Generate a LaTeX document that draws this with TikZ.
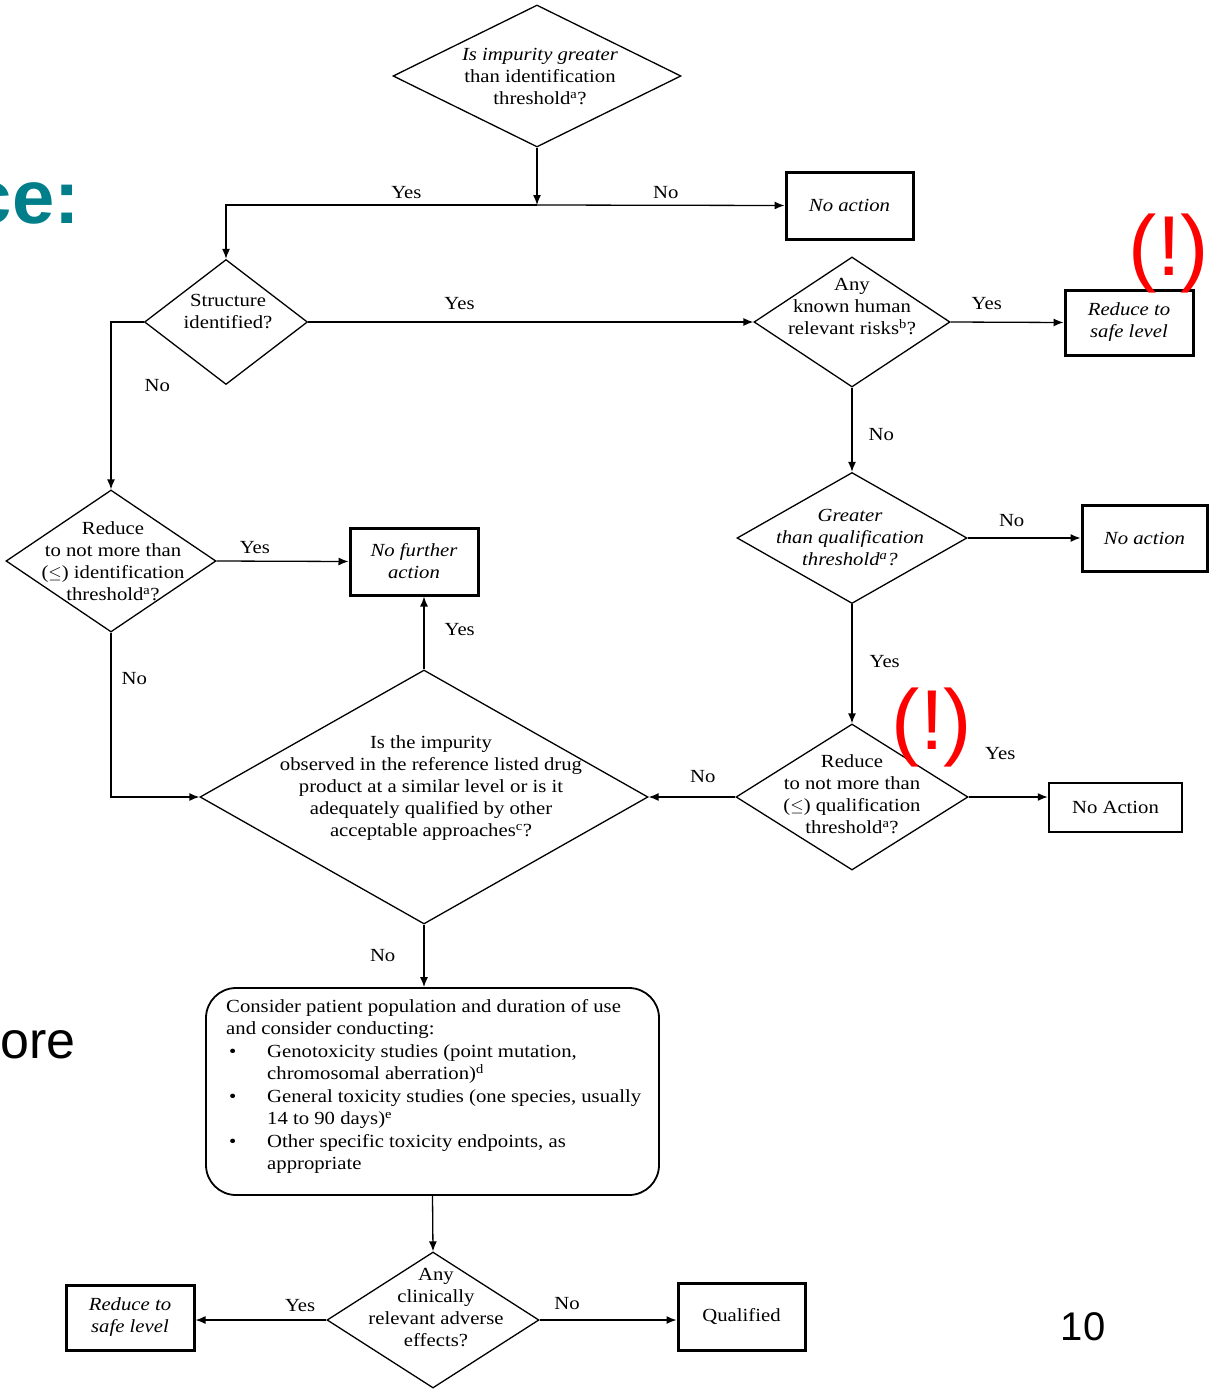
\documentclass[tikz,border=0pt]{standalone}
\usepackage{fontspec}
\setmainfont{Liberation Serif}[FakeStretch=1.12]
\newfontfamily\arialf{Liberation Sans}
\usetikzlibrary{shapes.geometric,arrows.meta}
\definecolor{slideteal}{RGB}{0,126,138}
\begin{document}
\begin{tikzpicture}[x=1pt,y=-1pt,
 dia/.style={draw, diamond, inner sep=0pt, line width=1.3pt},
 dtext/.style={align=center, font=\fontsize{18.5}{22}\selectfont, inner sep=0pt},
 endbox/.style={draw, line width=3pt, inner sep=0pt, font=\fontsize{18.5}{22}\selectfont, align=center},
 arr/.style={line width=1.3pt, -{Latex[length=10pt,width=8pt]}},
 lab/.style={font=\fontsize{18.5}{22}\selectfont, inner sep=2pt},
 warn/.style={text=red, font=\arialf\fontsize{85}{90}\selectfont, inner sep=0pt},
 slide/.style={font=\arialf\fontsize{52}{56}\selectfont, inner sep=0pt}
]
\clip (0,0) rectangle (1209,1394);
\fill[white] (0,0) rectangle (1209,1394);

% slide fragments
\node[slide, text=slideteal, font=\arialf\bfseries\fontsize{76}{80}\selectfont, anchor=base east] (ce) at (80,223) {ce:};
\node[slide, anchor=base west] (ore) at (0,1058) {ore};
\node[slide, font=\arialf\fontsize{40}{44}\selectfont] (pagenum) at (1083,1327) {10};

% diamonds
\node[dia, minimum width=288pt, minimum height=142pt] (q1) at (537,76) {};
\node[dtext] (q1t) at (540,77) {\textit{Is impurity greater}\\than identification\\threshold\textsuperscript{a}?};

\node[dia, minimum width=163pt, minimum height=125pt] (q2) at (226,322) {};
\node[dtext] (q2t) at (228,312) {Structure\\identified?};

\node[dia, minimum width=196pt, minimum height=130pt] (q3) at (852,322) {};
\node[dtext] (q3t) at (852,307) {Any\\known human\\relevant risks\textsuperscript{b}?};

\node[dia, minimum width=210pt, minimum height=142pt] (q4) at (111,561) {};
\node[dtext] (q4t) at (113,561) {Reduce\\to not more than\\($\leq$) identification\\threshold\textsuperscript{a}?};

\node[dia, minimum width=230pt, minimum height=131pt] (q5) at (852,538) {};
\node[dtext] (q5t) at (850,538) {\itshape Greater\\\itshape than qualification\\\itshape threshold\textsuperscript{a}?};

\node[dia, minimum width=232pt, minimum height=146pt] (q7) at (852,797) {};
\node[dtext] (q7t) at (852,794) {Reduce\\to not more than\\($\leq$) qualification\\threshold\textsuperscript{a}?};

\node[dia, minimum width=448pt, minimum height=254pt] (q6) at (424,797) {};
\node[dtext] (q6t) at (431,788) {Is the impurity\\observed in the reference listed drug\\product at a similar level or is it\\adequately qualified by other\\acceptable approaches\textsuperscript{c}?};

\node[dia, minimum width=212pt, minimum height=136pt] (q8) at (433,1320) {};
\node[dtext] (q8t) at (436,1308) {Any\\clinically\\relevant adverse\\effects?};

% end boxes
\node[endbox, minimum width=127pt, minimum height=67pt] (na1) at (849.5,205.5) {\itshape No action};
\node[endbox, minimum width=128pt, minimum height=65pt] (safe1) at (1129,322.5) {\itshape Reduce to\\\itshape safe level};
\node[endbox, minimum width=128pt, minimum height=67pt] (nfa) at (414,561.5) {\itshape No further\\\itshape action};
\node[endbox, minimum width=125pt, minimum height=66pt] (na2) at (1144.5,538) {\itshape No action};
\node[endbox, line width=2.5pt, minimum width=133pt, minimum height=49pt] (na3) at (1115.5,807.5) {No Action};
\node[endbox, minimum width=128pt, minimum height=65pt] (safe2) at (130,1317.5) {\itshape Reduce to\\\itshape safe level};
\node[endbox, minimum width=127pt, minimum height=67pt] (qual) at (741.5,1316.5) {Qualified};

% rounded box
\node[draw, line width=1.8pt, rounded corners=30pt, minimum width=453pt, minimum height=207pt, inner sep=0pt] (cons) at (432.5,1091.5) {};
\node[anchor=north west, align=left, inner sep=0pt, font=\fontsize{18.5}{22.5}\selectfont] (const) at (226,999) {Consider patient population and duration of use\\
and consider conducting:\\
\hspace*{3pt}\makebox[38pt][l]{\textbullet}Genotoxicity studies (point mutation,\\
\hspace*{41pt}chromosomal aberration)\textsuperscript{d}\\
\hspace*{3pt}\makebox[38pt][l]{\textbullet}General toxicity studies (one species, usually\\
\hspace*{41pt}14 to 90 days)\textsuperscript{e}\\
\hspace*{3pt}\makebox[38pt][l]{\textbullet}Other specific toxicity endpoints, as\\
\hspace*{41pt}appropriate};

% connectors
\coordinate (j1) at (537,205);
\draw[arr] (q1.south) -- (j1);
\draw[arr] (j1) -- (na1.west) node[lab, pos=0.52, above=4pt] (l1) {No};
\draw[arr] (j1) -| (q2.north) node[lab, pos=0.21, above=4pt] (l2) {Yes};
\draw[arr] (q2.east) -- (q3.west) node[lab, pos=0.34, above=10pt] (l3) {Yes};
\draw[arr] (q3.east) -- (safe1.west) node[lab, pos=0.32, above=10pt] (l4) {Yes};
\draw[arr] (q3.south) -- (q5.north) node[lab, pos=0.56, right=14pt] (l5) {No};
\draw[arr] (q5.east) -- (na2.west) node[lab, pos=0.39, above=9pt] (l6) {No};
\draw[arr] (q5.south) -- (q7.north) node[lab, pos=0.48, right=15pt] (l7) {Yes};
\draw[arr] (q7.east) -- (q7.east -| na3.west) node[lab, pos=0.4, above=35pt] (l8) {Yes};
\draw[arr] (q7.west) -- (q6.east) node[lab, pos=0.375, above=12pt] (l9) {No};
\draw[arr] (q6.north) -- (q6.north |- nfa.south) node[lab, pos=0.55, right=18pt] (l10) {Yes};
\draw[arr] (q2.west) -| (q4.north) node[lab, pos=0.69, right=31pt] (l11) {No};
\draw[arr] (q4.east) -- (nfa.west) node[lab, pos=0.29, above=5pt] (l12) {Yes};
\draw[arr] (q4.south) |- (q6.west) node[lab, pos=0.14, right=8pt] (l13) {No};
\draw[arr] (q6.south) -- (q6.south |- cons.north) node[lab, pos=0.49, left=26pt] (l14) {No};
\draw[arr] (cons.south) -- (q8.north);
\draw[arr] (q8.west) -- (q8.west -| safe2.east) node[lab, pos=0.2, above=6pt] (l15) {Yes};
\draw[arr] (q8.east) -- (q8.east -| qual.west) node[lab, pos=0.2, above=8pt] (l16) {No};

% warnings
\node[warn] (w1) at (1169,254) {(!)};
\node[warn] (w2) at (932,727) {(!)};
\end{tikzpicture}
\end{document}
